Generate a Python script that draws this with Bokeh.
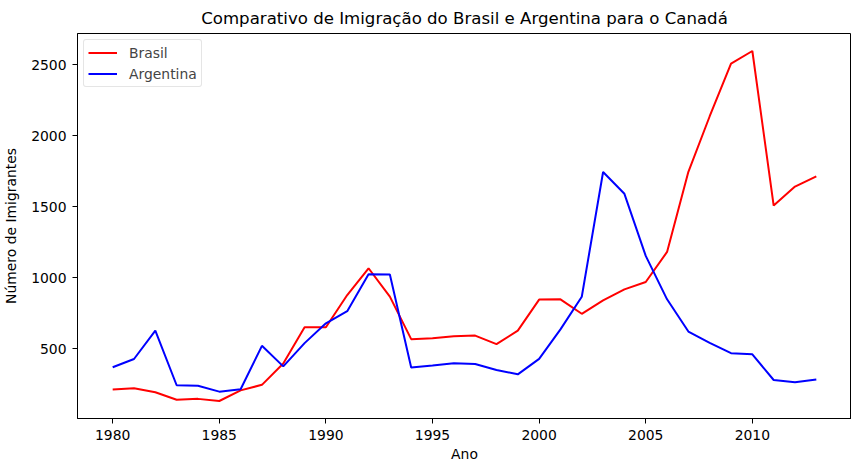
from bokeh.plotting import figure
from bokeh.models import ColumnDataSource, FixedTicker, Legend, LegendItem
from bokeh.embed import file_html
from bokeh.resources import INLINE

anos = list(range(1980, 2014))
brasil = [211, 220, 192, 139, 145, 130, 205, 244, 394, 650, 650, 877, 1066, 866, 566,
          572, 586, 591, 531, 626, 845, 847, 745, 839, 917, 969, 1181, 1746, 2138, 2509,
          2598, 1508, 1642, 1714]
argentina = [368, 426, 626, 241, 237, 196, 213, 519, 374, 538, 678, 763, 1023, 1022, 366,
             380, 396, 391, 349, 318, 427, 635, 865, 1745, 1591, 1153, 847, 620, 540, 467,
             459, 278, 263, 282]
x_ticks = [1980, 1985, 1990, 1995, 2000, 2005, 2010]
y_ticks = [500, 1000, 1500, 2000, 2500]

src = ColumnDataSource(dict(ano=anos, brasil=brasil, argentina=argentina))

FONT = "DejaVu Sans"
xmin, xmax = min(anos), max(anos)
xpad = (xmax - xmin) * 0.05
ymin = min(min(brasil), min(argentina))
ymax = max(max(brasil), max(argentina))
ypad = (ymax - ymin) * 0.05

p = figure(output_backend="svg", toolbar_location=None,
           frame_width=774, frame_height=385,
           x_range=(xmin - xpad, xmax + xpad), y_range=(ymin - ypad, ymax + ypad),
           min_border_left=0, min_border_right=0, min_border_top=0, min_border_bottom=0)

p.title.text = "Comparativo de Imigração do Brasil e Argentina para o Canadá"
p.title.align = "center"
p.title.text_font = FONT
p.title.text_font_size = "16.6px"
p.title.text_font_style = "normal"
p.title.text_color = "black"
p.title.standoff = 12

r1 = p.line("ano", "brasil", source=src, color="#ff0000", line_width=2)
r2 = p.line("ano", "argentina", source=src, color="#0000ff", line_width=2)

p.xgrid.visible = False
p.ygrid.visible = False
p.outline_line_color = "black"
p.outline_line_width = 1

for ax in (p.xaxis[0], p.yaxis[0]):
    ax.major_label_text_font = FONT
    ax.major_label_text_font_size = "13.9px"
    ax.major_label_text_color = "black"
    ax.axis_label_text_font = FONT
    ax.axis_label_text_font_size = "13.9px"
    ax.axis_label_text_font_style = "normal"
    ax.axis_label_text_color = "black"
    ax.major_tick_in = 0
    ax.major_tick_out = 5
    ax.minor_tick_in = 0
    ax.minor_tick_out = 0
    ax.axis_line_color = "black"
    ax.major_tick_line_color = "black"

p.xaxis[0].ticker = FixedTicker(ticks=x_ticks)
p.yaxis[0].ticker = FixedTicker(ticks=y_ticks)
p.xaxis[0].axis_label = "Ano"
p.yaxis[0].axis_label = "Número de Imigrantes"
p.xaxis[0].major_label_standoff = 6
p.yaxis[0].major_label_standoff = 6
p.xaxis[0].axis_label_standoff = 3
p.yaxis[0].axis_label_standoff = 9

legend = Legend(items=[LegendItem(label="Brasil", renderers=[r1]),
                       LegendItem(label="Argentina", renderers=[r2])],
                location="top_left")
legend.label_text_font = FONT
legend.label_text_font_size = "13.9px"
legend.glyph_width = 29
legend.glyph_height = 17
legend.label_height = 17
legend.label_standoff = 12
legend.spacing = 4
legend.padding = 4
legend.margin = 6
legend.border_line_color = "#cccccc"
legend.border_line_width = 1
legend.border_radius = 3
legend.background_fill_alpha = 0.8
p.add_layout(legend)

open("out.html", "w").write(file_html(p, INLINE))
